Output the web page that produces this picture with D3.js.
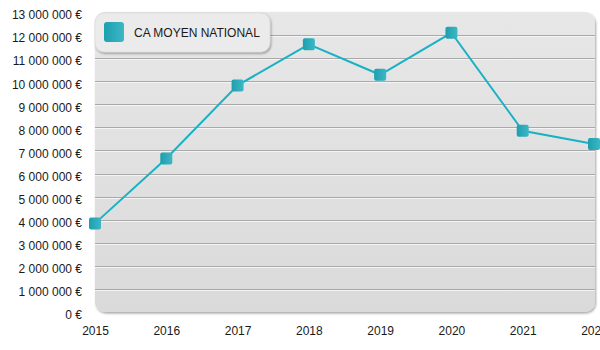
<!DOCTYPE html>
<html>
<head>
<meta charset="utf-8">
<script src="https://cdn.jsdelivr.net/npm/d3@7"></script>
<style>
  html, body { margin: 0; padding: 0; background: #fff; }
  svg { display: block; font-family: "Liberation Sans", Arial, sans-serif; }
</style>
</head>
<body>
<svg id="chart" width="600" height="350"></svg>
<script>
// Average national turnover per year
const years = [2015, 2016, 2017, 2018, 2019, 2020, 2021, 2022];
const caMoyen = [3840000, 6650000, 9820000, 11600000, 10280000, 12100000, 7850000, 7280000];
const seriesName = "CA MOYEN NATIONAL";
const yTicks = d3.range(0, 13000001, 1000000);

const svg = d3.select("#chart");
const plot = { left: 95, right: 595, top: 12, bottom: 312 };

const x = d3.scaleLinear().domain([2015, 2022]).range([95, 594]);
const y = d3.scaleLinear().domain([0, 13000000]).range([plot.bottom, plot.top]);

const fmt = v => d3.format(",")(v).replace(/,/g, " ") + " €";

const defs = svg.append("defs");
const bg = defs.append("linearGradient").attr("id", "bgGrad").attr("x1", 0).attr("y1", 0).attr("x2", 0).attr("y2", 1);
bg.append("stop").attr("offset", "0%").attr("stop-color", "#e7e7e7");
bg.append("stop").attr("offset", "100%").attr("stop-color", "#dadada");

const mk = defs.append("linearGradient").attr("id", "mkGrad").attr("x1", 0).attr("y1", 0).attr("x2", 1).attr("y2", 0);
mk.append("stop").attr("offset", "0%").attr("stop-color", "#1d9fae");
mk.append("stop").attr("offset", "100%").attr("stop-color", "#3cb7c5");

const sh = defs.append("filter").attr("id", "shadow").attr("x", "-5%").attr("y", "-5%").attr("width", "110%").attr("height", "115%");
sh.append("feDropShadow").attr("dx", 1).attr("dy", 1.5).attr("stdDeviation", 1).attr("flood-color", "#000").attr("flood-opacity", 0.35);

// Plot background panel
svg.append("rect")
  .attr("x", plot.left).attr("y", plot.top)
  .attr("width", plot.right - plot.left).attr("height", plot.bottom - plot.top)
  .attr("rx", 10).attr("ry", 10)
  .attr("fill", "url(#bgGrad)")
  .attr("filter", "url(#shadow)");

// Horizontal grid lines with a light highlight below
const gridVals = yTicks.filter(v => v > 0 && v < 13000000);
const grid = svg.append("g");
grid.selectAll("line.dark").data(gridVals).join("line")
  .attr("x1", plot.left).attr("x2", plot.right)
  .attr("y1", d => Math.round(y(d)) + 0.5).attr("y2", d => Math.round(y(d)) + 0.5)
  .attr("stroke", "#a9a9a9").attr("stroke-width", 1);
grid.selectAll("line.light").data(gridVals).join("line")
  .attr("x1", plot.left).attr("x2", plot.right)
  .attr("y1", d => Math.round(y(d)) + 1.5).attr("y2", d => Math.round(y(d)) + 1.5)
  .attr("stroke", "#f4f4f4").attr("stroke-width", 1);

// Y axis labels
const yAxis = d3.axisLeft(y).tickValues(yTicks).tickFormat(fmt).tickSize(0).tickPadding(0);
const gy = svg.append("g").attr("transform", "translate(82,3)").call(yAxis);
gy.select(".domain").remove();
gy.selectAll("text").attr("font-size", 12).attr("fill", "#1a1a1a")
  .attr("font-family", "'Liberation Sans', Arial, sans-serif");

// X axis labels
const xAxis = d3.axisBottom(x).tickValues(years).tickFormat(d3.format("d")).tickSize(0).tickPadding(0);
const gx = svg.append("g").attr("transform", "translate(0,326)").call(xAxis);
gx.select(".domain").remove();
gx.selectAll("text").attr("font-size", 12).attr("fill", "#1a1a1a")
  .attr("font-family", "'Liberation Sans', Arial, sans-serif");

// Series line
const line = d3.line().x((d, i) => x(years[i])).y(d => y(d));
svg.append("path").datum(caMoyen)
  .attr("d", line)
  .attr("fill", "none")
  .attr("stroke", "#19b1c4")
  .attr("stroke-width", 2);

// Markers
const ms = 12;
svg.append("g").selectAll("rect").data(caMoyen).join("rect")
  .attr("x", (d, i) => x(years[i]) - ms / 2)
  .attr("y", d => y(d) - ms / 2)
  .attr("width", ms).attr("height", ms)
  .attr("rx", 2).attr("ry", 2)
  .attr("fill", "url(#mkGrad)");

// Legend
const lg = svg.append("g").attr("transform", "translate(95,13)");
lg.append("rect")
  .attr("width", 175).attr("height", 39)
  .attr("rx", 9).attr("ry", 9)
  .attr("fill", "#ebebeb")
  .attr("stroke", "#d0d0d0").attr("stroke-width", 0.5)
  .attr("filter", "url(#shadow)");
lg.append("rect")
  .attr("x", 9).attr("y", 9).attr("width", 20).attr("height", 20)
  .attr("rx", 3).attr("ry", 3)
  .attr("fill", "url(#mkGrad)");
lg.append("text")
  .attr("x", 39).attr("y", 23.5)
  .attr("font-size", 12).attr("fill", "#1a1a1a")
  .text(seriesName);
</script>
</body>
</html>
